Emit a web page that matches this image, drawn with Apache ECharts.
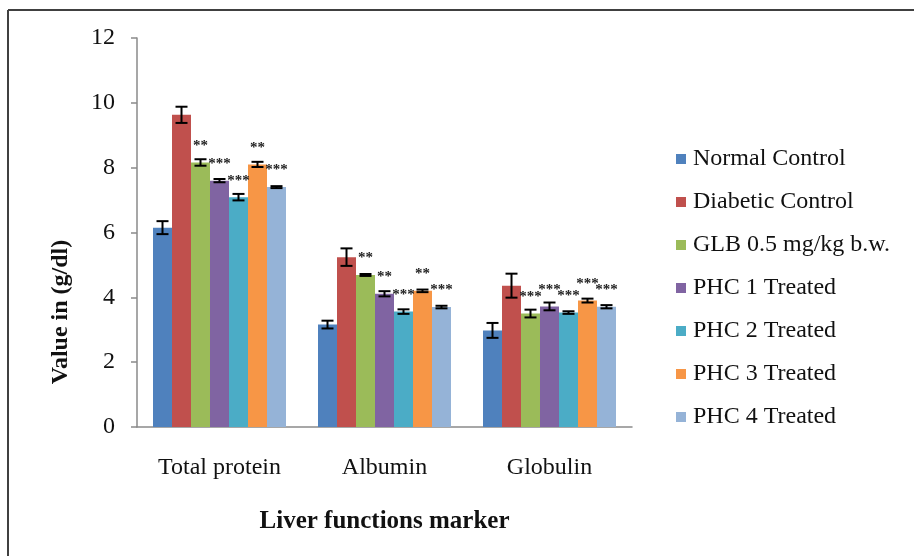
<!DOCTYPE html>
<html>
<head>
<meta charset="utf-8">
<script src="https://cdn.jsdelivr.net/npm/echarts@6/dist/echarts.min.js"></script>
<style>
html,body{margin:0;padding:0;background:#fff;}
#chart{width:914px;height:556px;}
</style>
</head>
<body>
<div id="chart"></div>
<script>
const categories = ['Total protein', 'Albumin', 'Globulin'];
const seriesNames = ['Normal Control', 'Diabetic Control', 'GLB 0.5 mg/kg b.w.', 'PHC 1 Treated', 'PHC 2 Treated', 'PHC 3 Treated', 'PHC 4 Treated'];
const yTicks = [0, 2, 4, 6, 8, 10, 12];

const normalControl = [6.15, 3.16, 2.98];
const diabeticControl = [9.63, 5.24, 4.36];
const glb = [8.16, 4.69, 3.50];
const phc1 = [7.60, 4.11, 3.72];
const phc2 = [7.09, 3.56, 3.53];
const phc3 = [8.10, 4.20, 3.90];
const phc4 = [7.40, 3.70, 3.71];

const errNormal = [0.20, 0.12, 0.23];
const errDiabetic = [0.25, 0.27, 0.37];
const errGlb = [0.10, 0.03, 0.12];
const errPhc1 = [0.05, 0.08, 0.12];
const errPhc2 = [0.10, 0.07, 0.04];
const errPhc3 = [0.08, 0.04, 0.06];
const errPhc4 = [0.03, 0.04, 0.05];

const sigNormal = ['', '', ''];
const sigDiabetic = ['', '', ''];
const sigGlb = ['**', '**', '***'];
const sigPhc1 = ['***', '**', '***'];
const sigPhc2 = ['***', '***', '***'];
const sigPhc3 = ['**', '**', '***'];
const sigPhc4 = ['***', '***', '***'];

const values = [normalControl, diabeticControl, glb, phc1, phc2, phc3, phc4];
const errors = [errNormal, errDiabetic, errGlb, errPhc1, errPhc2, errPhc3, errPhc4];
const sigs = [sigNormal, sigDiabetic, sigGlb, sigPhc1, sigPhc2, sigPhc3, sigPhc4];
const colors = ['#4F81BD', '#C0504D', '#9BBB59', '#8064A2', '#4BACC6', '#F79646', '#95B3D7'];

const FONT = "'Liberation Serif', 'Times New Roman', serif";
const GAP = 0.194;
const N = seriesNames.length;

const series = [];
values.forEach(function (vals, i) {
  series.push({
    name: seriesNames[i],
    type: 'bar',
    data: vals,
    barGap: '0%',
    barCategoryGap: (GAP * 100) + '%',
    itemStyle: { color: colors[i] },
    label: {
      show: true,
      position: 'top',
      distance: 9,
      formatter: function (p) { return sigs[i][p.dataIndex]; },
      fontFamily: FONT,
      fontSize: 15,
      fontWeight: 'bold',
      color: '#222'
    },
    z: 2
  });
});
values.forEach(function (vals, i) {
  series.push({
    type: 'custom',
    name: 'err' + i,
    z: 5,
    silent: true,
    encode: { x: 0, y: 1 },
    data: vals.map(function (v, k) { return [k, v, errors[i][k]]; }),
    renderItem: function (params, api) {
      const c = api.value(0), v = api.value(1), e = api.value(2);
      const p = api.coord([c, v]);
      const band = api.size([1, 0])[0];
      const bw = band * (1 - GAP) / N;
      const x = p[0] + (i - (N - 1) / 2) * bw;
      const yt = api.coord([c, v + e])[1];
      const yb = api.coord([c, v - e])[1];
      const hw = 6;
      const st = { stroke: '#000', lineWidth: 2 };
      return {
        type: 'group',
        children: [
          { type: 'line', shape: { x1: x, y1: yt, x2: x, y2: yb }, style: st },
          { type: 'line', shape: { x1: x - hw, y1: yt, x2: x + hw, y2: yt }, style: st },
          { type: 'line', shape: { x1: x - hw, y1: yb, x2: x + hw, y2: yb }, style: st }
        ]
      };
    }
  });
});

const chart = echarts.init(document.getElementById('chart'));
chart.setOption({
  animation: false,
  backgroundColor: '#fff',
  grid: { left: 137, right: 282, top: 38, bottom: 129, containLabel: false },
  legend: {
    data: seriesNames,
    orient: 'vertical',
    left: 671,
    top: 142,
    itemWidth: 10,
    itemHeight: 10,
    itemGap: 19,
    icon: 'rect',
    textStyle: { fontFamily: FONT, fontSize: 24, color: '#111', lineHeight: 24, padding: [0, 0, 0, 2] }
  },
  xAxis: {
    type: 'category',
    data: categories,
    axisLine: { lineStyle: { color: '#8a8a8a', width: 1.5 } },
    axisTick: { show: false },
    axisLabel: { fontFamily: FONT, fontSize: 24, color: '#111', margin: 29, lineHeight: 24 },
    name: 'Liver functions marker',
    nameLocation: 'middle',
    nameGap: 82,
    nameTextStyle: { fontFamily: FONT, fontSize: 25, fontWeight: 'bold', color: '#111' }
  },
  yAxis: {
    type: 'value',
    min: yTicks[0],
    max: yTicks[yTicks.length - 1],
    interval: yTicks[1] - yTicks[0],
    axisLine: { show: true, lineStyle: { color: '#8a8a8a', width: 1.5 } },
    axisTick: { show: true, length: 6, lineStyle: { color: '#8a8a8a', width: 1.5 } },
    splitLine: { show: false },
    axisLabel: { fontFamily: FONT, fontSize: 24, color: '#111', margin: 22 }
  },
  graphic: [
    { type: 'line', shape: { x1: 8, y1: 10, x2: 914, y2: 10 }, style: { stroke: '#404040', lineWidth: 2 } },
    { type: 'line', shape: { x1: 8, y1: 10, x2: 8, y2: 556 }, style: { stroke: '#404040', lineWidth: 2 } },
    {
      type: 'text',
      x: 61, y: 312,
      rotation: Math.PI / 2,
      style: {
        text: 'Value in (g/dl)',
        fontFamily: FONT, fontSize: 24, fontWeight: 'bold', fill: '#111',
        textAlign: 'center', textVerticalAlign: 'middle'
      }
    }
  ],
  series: series
});
</script>
</body>
</html>
